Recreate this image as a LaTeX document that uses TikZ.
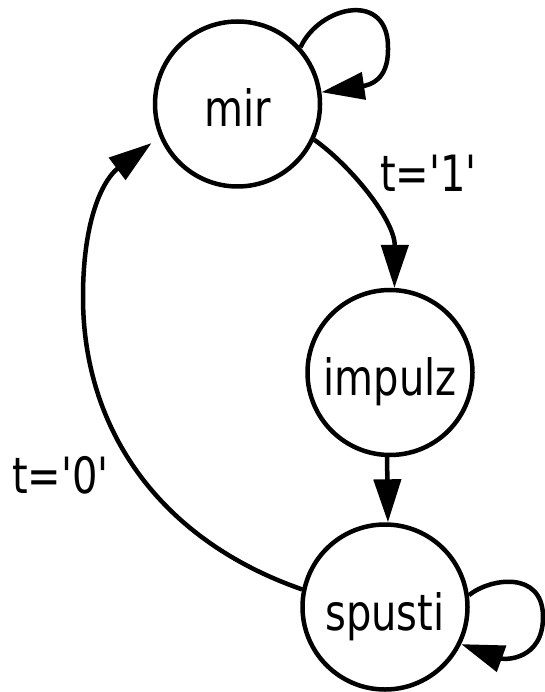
\documentclass[tikz,border=0pt]{standalone}
\usepackage{fontspec}
\newfontfamily\labfont[FakeStretch=0.8,Ligatures=TeXOff]{DejaVu Sans}
\usetikzlibrary{arrows.meta}
\begin{document}
\begin{tikzpicture}[x=1pt,y=-1pt,
  state/.style={circle,draw,line width=4.5pt,minimum size=165pt,inner sep=0pt,
    text height=46pt,text depth=0pt,font=\labfont\fontsize{50}{60}\selectfont},
  edge/.style={line width=4.5pt,-{Triangle[length=43pt,width=27pt]}},
  lbl/.style={font=\labfont\fontsize{50}{60}\selectfont,inner sep=0pt,anchor=base west}]
\useasboundingbox (0,0) rectangle (545,692);
\node[state] (mir) at (237.5,104) {mir};
\node[state] (impulz) at (390,372.5) {impulz};
\node[state] (spusti) at (385,607) {spusti};
% self loop on mir
\draw[edge] (mir.42) .. controls (320,5) and (390,-10) .. (388,50)
  .. controls (388,80) and (370,85) .. (mir.8);
% mir -> impulz
\draw[edge] (mir.-25) .. controls (350,165) and (395,220) .. (impulz.87);
% impulz -> spusti
\draw[edge] (impulz.-92) -- (spusti.88);
% spusti -> mir
\draw[edge,shorten >=10pt] (spusti.168) .. controls (160,540) and (83,430) .. (83,297)
  .. controls (83,215) and (105,178) .. (mir.203);
% self loop on spusti
\draw[edge] (spusti.8) .. controls (490,578) and (543,570) .. (543,617)
  .. controls (543,660) and (505,660) .. (spusti.-26);
\node[lbl] (l1) at (380,192) {t='1'};
\node[lbl] (l0) at (12,493) {t='0'};
\end{tikzpicture}
\end{document}
